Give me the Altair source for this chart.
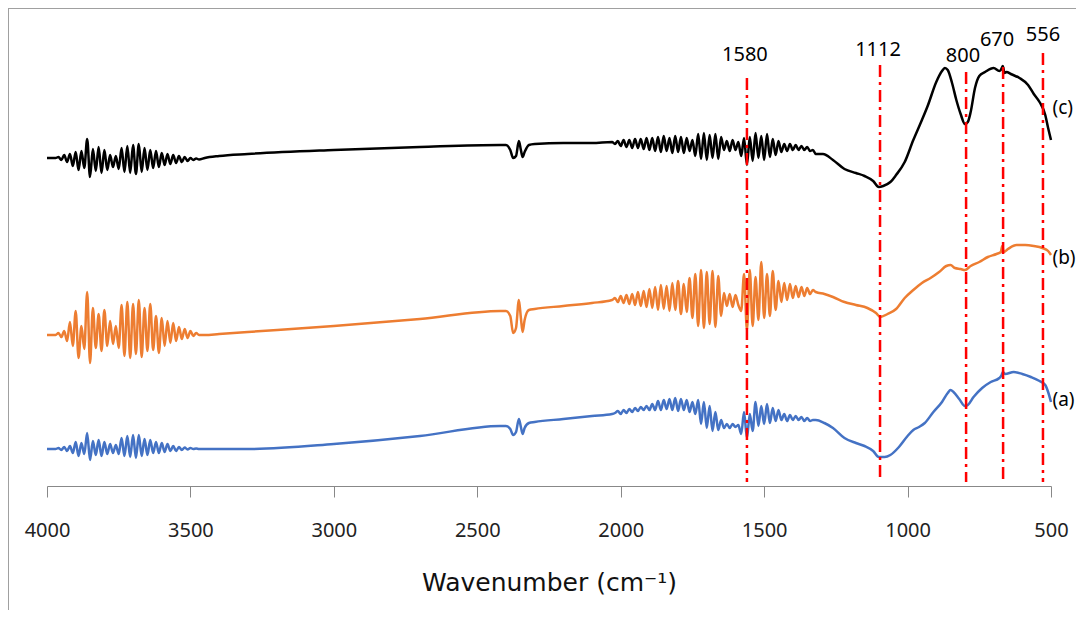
import altair as alt
import pandas as pd

# ---------------- data (wavenumber in cm-1, offset transmittance in a.u.) ----------------
HEAD_WN = [4000, 3970]
LEFT_NOISE_WN = list(range(3960, 3460, -10))      # 50 samples
BRIDGE_WN = [3450, 3400, 3300, 3000, 2700, 2420, 2400, 2385, 2375, 2365, 2355,
             2348, 2342, 2335, 2320, 2300, 2200, 2100, 2030]
MID_NOISE_WN = list(range(2020, 1320, -10))       # 70 samples

# (c) black
c_head = [328, 328]
c_left = [329, 326, 331, 324, 332, 320, 334, 316, 335, 318,
          347, 309, 337, 315, 339, 313, 336, 316, 331, 319,
          330, 317, 338, 314, 340, 313, 341, 312, 342, 314,
          338, 316, 336, 318, 335, 319, 333, 321, 332, 322,
          331, 323, 330, 324, 329, 325, 328, 326, 327.5, 326.5]
c_bridge = [328, 330, 332, 336, 339, 341, 341, 336, 328, 330, 345, 336, 329, 334,
            341, 342, 343, 343, 344]
c_mid = [342, 345, 340, 346, 339, 346, 338, 347, 338, 347,
         337, 348, 336, 348, 335, 349, 334, 350, 335, 348,
         333, 350, 334, 349, 333, 348, 335, 346, 330, 352,
         327, 353, 326, 351, 328, 352, 327, 349, 336, 345,
         335, 346, 336, 344, 330, 348, 321, 349, 325, 353,
         328, 350, 326, 352, 329, 347, 331, 345, 334, 342,
         335, 342, 336, 341, 336, 340, 336, 339, 335, 336]
c_tail_wn = [1320, 1295, 1260, 1220, 1180, 1150, 1120, 1100, 1085, 1060,
             1040, 1010, 980, 950, 930, 900, 880, 870, 860, 845,
             830, 815, 800, 790, 780, 765, 750, 730, 700, 680,
             675, 668, 662, 655, 640, 610, 580, 560, 540, 520, 510, 500]
c_tail = [332, 332, 326, 317, 313, 310, 305, 299, 300, 304,
          311, 324, 346, 366, 380, 404, 415, 418, 416, 403,
          386, 372, 362, 364, 374, 398, 410, 414, 418, 415,
          416, 420, 413, 414, 412, 408, 401, 392, 384, 371, 358, 346]

# (b) orange
b_head = [151, 151]
b_left = [153, 149, 155, 145, 164, 140, 175, 128, 160, 137,
          194, 123, 178, 138, 172, 135, 176, 140, 165, 142,
          160, 138, 181, 130, 184, 128, 182, 132, 186, 129,
          178, 135, 182, 136, 170, 133, 168, 140, 165, 143,
          163, 145, 159, 147, 157, 148, 155, 150, 153, 151]
b_bridge = [151, 152, 154, 160, 167, 175, 175, 170, 153, 158, 186, 168, 154, 166,
            176, 177, 180, 183, 186]
b_mid = [188, 184, 190, 183, 191, 182, 192, 181, 194, 180,
         195, 179, 197, 178, 199, 176, 201, 177, 200, 175,
         203, 176, 205, 172, 202, 174, 208, 168, 212, 160,
         216, 158, 214, 162, 215, 159, 210, 170, 193, 180,
         192, 179, 191, 181, 175, 212, 156, 216, 160, 209,
         166, 224, 168, 212, 170, 215, 176, 205, 184, 203,
         186, 202, 188, 200, 189, 199, 190, 198, 192, 196]
b_tail_wn = [1320, 1290, 1260, 1220, 1180, 1140, 1110, 1095, 1070, 1040,
             1010, 980, 950, 920, 890, 865, 850, 835, 815, 800,
             780, 750, 720, 690, 675, 670, 665, 650, 620, 590,
             560, 530, 510, 500]
b_tail = [194, 192, 189, 184, 181, 178, 173, 169, 172, 177,
          188, 196, 203, 208, 214, 220, 221, 218, 217, 216,
          220, 224, 229, 232, 234, 240, 234, 237, 241, 241,
          240, 238, 235, 231]

# (a) blue
a_head = [37, 37]
a_left = [38, 36, 39, 35, 40, 33, 44, 30, 43, 32,
          53, 26, 45, 31, 46, 30, 44, 32, 42, 33,
          41, 32, 48, 30, 50, 29, 51, 28, 51, 30,
          47, 31, 46, 33, 44, 33, 43, 34, 42, 35,
          40, 35, 39, 36, 38.5, 36.5, 38, 37, 37.5, 37]
a_bridge = [37, 37, 37, 42, 50, 60, 60, 57, 51, 54, 67, 59, 52, 58,
            63, 64, 67, 70, 72]
a_mid = [73, 75, 72, 76, 73, 77, 74, 78, 75, 79,
         76, 80, 76, 82, 76, 85, 76, 86, 77, 87,
         76, 88, 75, 87, 76, 86, 74, 84, 72, 86,
         62, 84, 58, 80, 55, 74, 56, 66, 58, 62,
         58, 62, 59, 61, 52, 74, 48, 72, 55, 84,
         60, 80, 62, 82, 63, 78, 65, 76, 66, 72,
         65, 71, 66, 70, 66, 69, 65, 68, 65, 66]
a_tail_wn = [1320, 1290, 1260, 1220, 1180, 1150, 1120, 1100, 1080, 1060,
             1030, 1000, 980, 960, 940, 910, 880, 860, 850, 840,
             820, 800, 790, 770, 740, 710, 680, 672, 668, 660,
             630, 600, 570, 540, 520, 510, 500]
a_tail = [66, 63, 58, 48, 43, 40, 35, 29, 29, 31,
          39, 50, 56, 59, 63, 74, 84, 93, 96, 94,
          87, 80, 81, 89, 98, 104, 108, 111, 114, 112,
          114, 112, 109, 105, 101, 94, 84]

SERIES = ["(a)", "(b)", "(c)"]
COLORS = ["#4472C4", "#ED7D31", "#000000"]

# curve labels
CURVE_LABEL_WN = [495, 495, 495]
CURVE_LABEL_Y = [86, 228, 378]

# reference (dash-dot) lines
REF_POS = [1560, 1096, 796, 667, 528]
REF_TOP = [408, 421, 414, 419, 433]
REF_BOTTOM = [4, 4, 4, 4, 4]
REF_LABEL = ["1580", "1112", "800", "670", "556"]
REF_LABEL_WN = [1567, 1103, 807, 688, 528]
REF_LABEL_Y = [431, 436, 430, 446, 451]

X_TICKS = [4000, 3500, 3000, 2500, 2000, 1500, 1000, 500]

# ---------------- tables ----------------
rows = []
for name, head, left, bridge, mid, twn, tval in [
    ("(a)", a_head, a_left, a_bridge, a_mid, a_tail_wn, a_tail),
    ("(b)", b_head, b_left, b_bridge, b_mid, b_tail_wn, b_tail),
    ("(c)", c_head, c_left, c_bridge, c_mid, c_tail_wn, c_tail),
]:
    wn = HEAD_WN + LEFT_NOISE_WN + BRIDGE_WN + MID_NOISE_WN + twn
    val = head + left + bridge + mid + tval
    for w, v in zip(wn, val):
        rows.append({"wn": float(w), "val": float(v), "series": name})
spec = pd.DataFrame(rows)

refs = pd.DataFrame({"pos": [float(v) for v in REF_POS],
                     "ytop": [float(v) for v in REF_TOP],
                     "ybot": [float(v) for v in REF_BOTTOM],
                     "label": REF_LABEL,
                     "lx": [float(v) for v in REF_LABEL_WN],
                     "ly": [float(v) for v in REF_LABEL_Y]})
curve_lab = pd.DataFrame({"name": SERIES,
                          "wn": [float(v) for v in CURVE_LABEL_WN],
                          "val": [float(v) for v in CURVE_LABEL_Y]})

FONT = "Noto Sans"
TITLE_FONT = "DejaVu Sans"
xscale = alt.Scale(domain=[500, 4000], reverse=True, nice=False, zero=False)
yscale = alt.Scale(domain=[0, 470], nice=False, zero=False)


def xaxis():
    return alt.Axis(values=X_TICKS, format="d", title="Wavenumber (cm⁻¹)",
                    grid=False, labelFont=FONT, labelFontSize=20, labelColor="#222222",
                    labelFlush=False,
                    tickSize=11, tickColor="#888888", domainColor="#888888",
                    labelPadding=23, titleFont=TITLE_FONT, titleFontSize=25,
                    titleFontWeight="normal", titleColor="#111111", titlePadding=30)


lines = alt.Chart(spec).mark_line(strokeWidth=2.5, interpolate="monotone").encode(
    x=alt.X("wn:Q", scale=xscale, axis=xaxis()),
    y=alt.Y("val:Q", scale=yscale, axis=None),
    color=alt.Color("series:N", scale=alt.Scale(domain=SERIES, range=COLORS), legend=None),
)

rules = alt.Chart(refs).mark_rule(color="#FF0000", strokeWidth=2.5,
                                  strokeDash=[12, 5, 3, 5]).encode(
    x=alt.X("pos:Q", scale=xscale, axis=xaxis()),
    y=alt.Y("ytop:Q", scale=yscale, axis=None),
    y2=alt.Y2("ybot"),
)

ref_text = alt.Chart(refs).mark_text(font=FONT, fontSize=20, color="#000000",
                                     align="center", baseline="middle").encode(
    x=alt.X("lx:Q", scale=xscale, axis=xaxis()),
    y=alt.Y("ly:Q", scale=yscale, axis=None),
    text=alt.Text("label:N"),
)

curve_text = alt.Chart(curve_lab).mark_text(font=FONT, fontSize=19, color="#000000",
                                            align="left", baseline="middle").encode(
    x=alt.X("wn:Q", scale=xscale, axis=xaxis()),
    y=alt.Y("val:Q", scale=yscale, axis=None),
    text=alt.Text("name:N"),
)

# thin picture frame (top and left edges)
frame_src = pd.DataFrame({"k": [0]})
frame_top = alt.Chart(frame_src).mark_rule(color="#A0A0A0", strokeWidth=1).encode(
    x=alt.value(-39), x2=alt.value(1029), y=alt.value(-7.5))
frame_left = alt.Chart(frame_src).mark_rule(color="#A0A0A0", strokeWidth=1).encode(
    x=alt.value(-38.5), y=alt.value(-8), y2=alt.value(594))

chart = alt.layer(lines, rules, ref_text, curve_text, frame_top, frame_left).properties(
    width=1004, height=470,
    padding={"left": 39, "top": 8, "right": 25, "bottom": 124},
    autosize=alt.AutoSizeParams(type="none"),
).configure_view(stroke=None)

chart.save("out.html", embed_options={"renderer": "svg", "actions": False})
